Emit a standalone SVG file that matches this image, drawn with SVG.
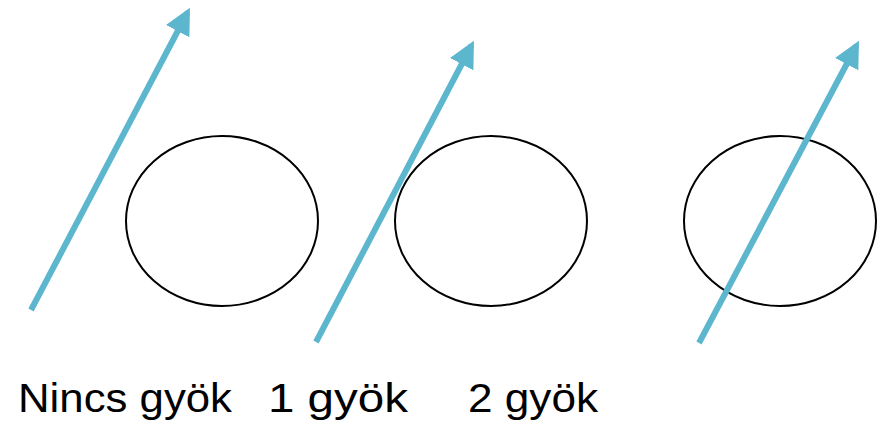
<svg xmlns="http://www.w3.org/2000/svg" width="879" height="425" viewBox="0 0 879 425">
<style>
.c{fill:none;stroke:#000;stroke-width:2}
.a{stroke:#5CB6CE;stroke-width:6;fill:none;marker-end:url(#ah)}
.t{font-family:"Liberation Sans",Arial,sans-serif;font-size:41px;fill:#000}
</style>
<defs>
<marker id="ah" markerWidth="4.4" markerHeight="4.4" refX="3.2" refY="2" orient="auto" markerUnits="strokeWidth" viewBox="0 0 4 4">
<path d="M0,0 L4,2 L0,4 Z" fill="#5CB6CE"/>
</marker>
</defs>
<rect width="879" height="425" fill="#fff"/>
<g id="circle1"><ellipse class="c" cx="222" cy="221" rx="96" ry="85"/></g>
<g id="circle2"><ellipse class="c" cx="491" cy="221" rx="96" ry="85"/></g>
<g id="circle3"><ellipse class="c" cx="780" cy="221" rx="96" ry="85"/></g>
<g id="connectors">
<line class="a" x1="31" y1="310" x2="187.5" y2="12.5"/>
<line class="a" x1="316" y1="342" x2="471.5" y2="45.5"/>
<line class="a" x1="699" y1="343" x2="856.5" y2="45.5"/>
</g>
<g id="labels">
<text class="t" x="18" y="412" textLength="214" lengthAdjust="spacingAndGlyphs">Nincs gyök</text>
<text class="t" x="268" y="412" textLength="140" lengthAdjust="spacingAndGlyphs">1 gyök</text>
<text class="t" x="468" y="412" textLength="130" lengthAdjust="spacingAndGlyphs">2 gyök</text>
</g>
</svg>
